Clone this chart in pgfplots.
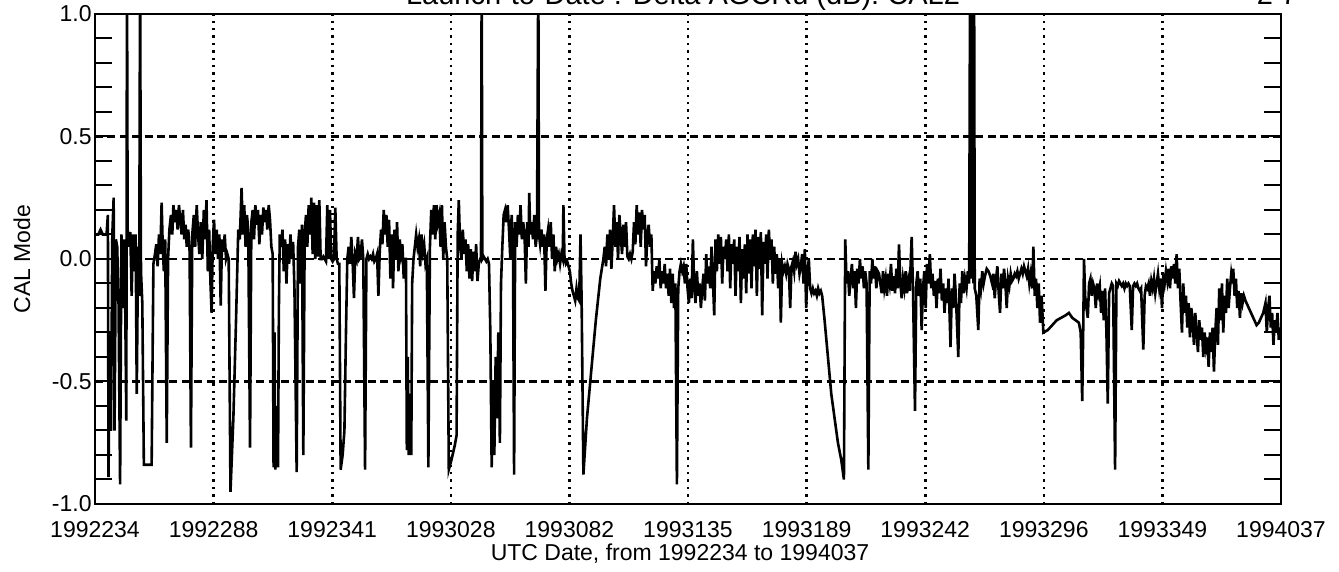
\documentclass[border=0pt]{standalone}
\usepackage{fontspec}
\setmainfont{Liberation Sans}
\usepackage{pgfplots}
\pgfplotsset{compat=1.18}

\begin{document}
\begin{tikzpicture}
\begin{axis}[
  name=ax, at={(0,0)}, anchor=south west,
  scale only axis, width=593pt, height=245pt,
  xmin=0, xmax=534, ymin=-1, ymax=1,
  xtick={0,53.4,106.8,160.2,213.6,267,320.4,373.8,427.2,480.6,534},
  xticklabels={1992234,1992288,1992341,1993028,1993082,1993135,1993189,1993242,1993296,1993349,1994037},
  ytick={-1,-0.5,0,0.5,1},
  yticklabels={\raisebox{1pt}{-1.0},-0.5,0.0,0.5,\raisebox{-3pt}{1.0}},
  minor y tick num=4,
  ytick pos=both,
  tick align=inside,
  major tick length=8.5pt, minor tick length=8.5pt,
  xtick style={draw=none},
  ytick style={line width=1pt, black},
  minor tick style={line width=1pt, black},
  axis line style={line width=1.3pt},
  xmajorgrids, ymajorgrids,
  every axis x grid/.style={black, line width=1.3pt, dash pattern=on 1.2pt off 2.5pt},
  every axis y grid/.style={black, line width=1.2pt, dash pattern=on 4pt off 2.2pt},
  /pgf/number format/assume math mode=true,
  tick label style={font=\fontsize{11.5}{13}\selectfont},
  xticklabel style={yshift=-5.2pt},
  yticklabel style={inner xsep=1.5pt},
]
\addplot[black, line width=1.3pt] coordinates {
(0.3,0.10) (1.5,0.10) (2.5,0.12) (3.5,0.10) (5.2,0.10) (5.8,0.18) (6.1,-0.89) (6.6,-0.30) (7.2,-0.70) (7.8,0.10)
(8.4,0.25) (8.8,-0.70) (9.4,0.08) (10.0,0.05) (10.6,-0.18) (11.3,-0.92) (11.9,0.10) (12.5,-0.20) (13.0,0.08) (13.6,-0.18)
(14.1,-0.66) (14.4,1.2) (14.7,0.12) (15.3,0.05) (15.9,0.11) (16.5,-0.15) (17.1,0.10) (17.7,-0.05) (18.3,0.10) (18.8,-0.55)
(19.4,0.05) (19.9,-0.15) (20.3,1.2) (20.7,-0.05) (21.3,-0.18) (22.0,-0.84) (25.5,-0.84) (26.3,-0.02)
(27.0,0.02) (27.6,0.06) (28.2,-0.03) (28.8,0.10) (29.4,0.02) (30.0,0.23) (30.5,0.05) (31.0,-0.05) (31.6,0.08) (32.3,-0.75)
(32.9,0.00) (33.5,0.12) (34.2,0.18) (34.8,0.10) (35.3,0.22) (36.0,0.15) (36.6,0.20) (37.2,0.12) (37.8,0.22) (38.3,0.17)
(39.0,0.10) (39.6,0.20) (40.2,0.08) (40.8,0.14) (41.3,0.05) (42.0,0.12) (42.6,0.03) (43.2,-0.77) (43.8,0.10) (44.5,0.18)
(45.1,0.05) (45.8,0.22) (46.4,0.10) (47.0,0.02) (47.6,0.15) (48.3,0.00) (49.0,0.20) (49.6,0.08) (50.2,0.24) (50.8,-0.05)
(51.4,0.12) (52.0,-0.10) (52.5,-0.22) (53.0,0.05) (53.6,0.16) (54.2,0.02) (54.8,0.12) (55.4,0.00) (56.0,0.10) (56.6,-0.19)
(57.2,0.08) (57.8,0.03) (58.4,0.10) (59.0,0.00) (59.6,0.02) (60.2,0.00) (61.0,-0.95) (62.3,-0.65) (63.5,-0.25) (64.5,0.12)
(65.2,0.08) (66.0,0.29) (66.6,0.10) (67.2,0.22) (67.8,0.05) (68.4,0.18) (69.0,0.12) (69.8,-0.77) (70.4,0.15) (71.0,0.20)
(71.6,0.08) (72.2,0.22) (72.8,0.14) (73.4,0.20) (74.0,0.06) (74.6,0.18) (75.2,0.10) (75.8,0.21) (76.4,0.15) (77.0,0.20)
(77.6,0.12) (78.2,0.22) (78.8,0.16) (79.4,0.05) (80.0,0.02) (80.4,-0.85) (80.8,-0.30) (81.2,-0.86) (81.6,-0.60) (82.0,-0.70)
(82.4,-0.85) (82.8,-0.20) (83.2,0.10) (83.8,0.05) (84.4,0.12) (85.0,-0.05) (85.6,0.08) (86.2,-0.10) (86.8,0.06) (87.4,-0.02)
(88.0,0.10) (88.6,0.00) (89.2,0.07) (89.8,-0.12) (90.8,-0.87) (91.4,0.05) (92.0,0.12) (92.6,-0.10) (93.2,0.14) (93.8,-0.80)
(94.4,0.10) (95.0,0.18) (95.6,0.05) (96.2,0.22) (96.8,0.10) (97.4,0.25) (98.0,0.02) (98.6,0.23) (99.2,0.00) (99.8,0.22)
(100.4,0.01) (101.0,0.24) (101.6,0.00) (102.2,0.00) (102.8,0.01) (103.4,0.00) (104.0,-0.01) (104.6,0.22) (105.2,0.00) (105.8,0.20)
(106.4,0.00) (107.0,-0.01) (107.6,0.00) (108.2,0.21) (108.8,0.00) (109.4,-0.02) (110.0,-0.02) (110.6,-0.86) (111.5,-0.80) (112.3,-0.70)
(113.0,-0.30) (113.6,0.00) (114.2,0.05) (114.8,-0.02) (115.4,0.09) (116.0,-0.01) (116.6,-0.16) (117.2,0.02) (117.8,0.00) (118.4,0.09)
(119.0,0.00) (119.6,0.01) (120.2,0.08) (120.8,0.00) (121.6,-0.86) (122.2,0.00) (122.8,0.02) (123.4,0.00) (124.0,0.01) (124.6,0.00)
(125.2,0.02) (125.8,-0.01) (126.4,0.00) (127.0,0.02) (127.6,-0.15) (128.2,0.03) (128.8,0.12) (129.4,0.06) (130.0,0.20) (130.6,0.10)
(131.2,0.18) (131.8,0.05) (132.4,0.16) (133.0,-0.08) (133.6,0.10) (134.2,-0.12) (134.8,0.12) (135.4,0.00) (136.0,0.15) (136.6,-0.05)
(137.2,0.08) (137.8,0.02) (138.4,0.06) (139.0,-0.08) (139.6,0.00) (140.0,0.00) (140.4,-0.78) (140.8,-0.40) (141.2,-0.80) (141.6,-0.55)
(142.0,-0.68) (142.4,-0.80) (142.8,-0.10) (143.4,0.00) (144.0,0.05) (144.6,0.10) (145.2,0.05) (145.8,0.08) (146.4,-0.03) (147.0,0.10)
(147.6,0.03) (148.2,0.06) (148.8,-0.02) (149.4,0.00) (150.1,-0.85) (150.8,0.05) (151.4,0.20) (152.0,0.10) (152.6,0.22) (153.2,0.08)
(153.8,0.22) (154.4,0.15) (155.0,0.18) (155.6,0.05) (156.2,0.22) (156.8,0.00) (157.4,0.15) (158.0,0.05) (158.6,0.00) (159.3,-0.86)
(160.5,-0.82) (162.0,-0.76) (162.8,-0.72) (163.3,0.10) (163.8,0.24) (164.4,0.05) (165.0,0.00) (165.6,0.12) (166.2,0.02) (166.8,0.08)
(167.4,-0.05) (168.0,0.06) (168.6,-0.08) (169.2,0.04) (169.8,-0.09) (170.4,0.03) (171.0,-0.05) (171.6,0.06) (172.2,-0.09) (172.8,-0.02)
(173.4,0.00) (173.8,0.00) (174.1,1.2) (174.4,0.00) (175.0,0.01) (175.6,0.00) (176.2,-0.01) (176.8,0.00) (177.4,-0.02) (178.0,-0.30)
(178.6,-0.85) (179.2,-0.50) (179.8,-0.80) (180.4,-0.40) (181.0,-0.65) (181.6,-0.30) (182.3,-0.75) (182.8,-0.10) (183.4,0.05) (184.0,0.18)
(184.6,0.20) (185.2,0.15) (185.8,0.22) (186.4,0.12) (187.0,0.00) (187.6,0.18) (188.2,0.05) (188.7,-0.88) (189.2,0.15) (189.8,0.05)
(190.4,0.18) (191.0,0.10) (191.6,0.22) (192.2,0.08) (192.8,0.15) (193.4,0.10) (194.0,-0.10) (194.6,0.15) (195.2,0.05) (195.5,0.27)
(196.0,0.10) (196.6,0.15) (197.2,0.08) (197.8,0.18) (198.4,0.05) (199.0,0.10) (199.6,1.2) (199.9,0.10) (200.4,0.06) (201.0,0.12)
(201.6,0.05) (202.2,0.10) (202.8,-0.13) (203.4,0.08) (204.0,0.12) (204.6,0.05) (205.2,0.15) (205.8,0.00) (206.4,0.10) (207.0,-0.05)
(207.6,0.05) (208.2,0.00) (208.8,0.02) (209.4,-0.02) (210.0,0.02) (210.6,0.00) (210.9,0.22) (211.4,0.00) (212.0,-0.02) (212.6,-0.01)
(213.2,-0.03) (213.8,-0.05) (214.4,-0.10) (215.0,-0.13) (215.6,-0.15) (216.2,-0.17) (216.8,-0.12) (217.4,-0.16) (218.0,-0.17) (218.6,0.10)
(219.1,-0.17) (219.9,-0.88) (221.5,-0.65) (223.5,-0.45) (225.5,-0.25) (227.5,-0.08) (228.9,0.00) (229.5,0.05) (230.1,-0.03) (230.7,0.10)
(231.3,0.00) (231.9,0.12) (232.5,-0.04) (233.1,0.08) (233.7,0.22) (234.3,0.05) (234.9,0.15) (235.5,0.00) (236.1,0.18) (236.7,0.10)
(237.3,0.02) (237.9,0.14) (238.5,0.05) (239.1,0.15) (239.7,0.01) (240.3,0.00) (240.9,0.02) (241.5,0.00) (242.1,0.03) (242.7,0.15)
(243.3,0.06) (243.9,0.22) (244.5,0.10) (245.1,0.19) (245.7,0.05) (246.3,0.20) (246.9,0.12) (247.5,0.18) (248.1,-0.03) (248.7,0.10)
(249.3,0.14) (249.9,0.05) (250.5,0.10) (251.1,-0.13) (251.7,-0.05) (252.3,-0.10) (252.9,-0.03) (253.5,-0.08) (254.1,0.00) (254.7,-0.12)
(255.3,-0.05) (255.9,-0.10) (256.5,-0.02) (257.1,-0.12) (257.7,-0.06) (258.3,-0.15) (258.9,-0.04) (259.5,-0.18) (260.1,-0.06) (260.7,-0.20)
(261.3,-0.10) (262.0,-0.92) (262.6,-0.12) (263.2,-0.05) (263.8,-0.02) (264.4,-0.05) (265.0,-0.03) (265.6,-0.10) (266.2,-0.02) (266.8,-0.12)
(267.4,-0.18) (268.0,-0.08) (268.6,-0.16) (269.2,0.08) (269.8,-0.12) (270.4,-0.18) (271.0,-0.05) (271.6,-0.15) (272.2,-0.10) (272.8,-0.20)
(273.4,-0.12) (274.0,-0.06) (274.6,-0.17) (275.2,0.02) (275.8,-0.10) (276.4,-0.03) (277.0,-0.12) (277.6,0.05) (278.2,-0.08) (278.8,-0.23)
(279.4,0.08) (280.0,-0.05) (280.6,0.10) (281.2,-0.02) (281.8,0.09) (282.4,-0.10) (283.0,0.05) (283.6,0.00) (284.2,0.08) (284.8,-0.05)
(285.4,0.10) (286.0,-0.12) (286.6,0.06) (287.2,-0.02) (287.8,0.08) (288.4,-0.15) (289.0,0.05) (289.6,-0.05) (290.2,0.09) (290.8,-0.18)
(291.4,0.04) (292.0,-0.08) (292.6,0.06) (293.2,-0.14) (293.8,0.10) (294.4,-0.06) (295.0,0.08) (295.6,-0.12) (296.2,0.10) (296.8,-0.03)
(297.4,0.12) (298.0,-0.15) (298.6,0.09) (299.2,-0.04) (299.8,0.11) (300.4,-0.23) (301.0,0.07) (301.6,-0.02) (302.2,0.10) (302.8,-0.08)
(303.4,0.12) (304.0,0.00) (304.6,0.08) (305.2,-0.10) (305.8,0.05) (306.4,-0.06) (307.0,0.02) (307.6,-0.12) (308.2,0.00) (308.8,-0.26)
(309.4,-0.02) (310.0,-0.05) (310.6,-0.03) (311.2,-0.06) (311.8,-0.02) (312.4,-0.04) (313.0,-0.20) (313.6,-0.03) (314.2,-0.01) (314.8,-0.05)
(315.4,0.03) (316.0,-0.02) (316.6,0.00) (317.2,-0.06) (317.8,-0.03) (318.4,0.02) (319.0,-0.10) (319.6,0.04) (320.2,-0.20) (320.8,-0.05)
(321.4,0.00) (322.0,-0.12) (322.6,-0.14) (323.2,-0.12) (323.8,-0.14) (324.4,-0.13) (325.0,-0.15) (325.6,-0.12) (326.2,-0.14) (326.8,-0.13)
(327.4,-0.15) (328.5,-0.25) (330.0,-0.40) (331.5,-0.55) (333.0,-0.65) (334.5,-0.75) (336.0,-0.82) (337.2,-0.90) (337.8,0.08) (338.4,-0.10)
(339.0,-0.05) (339.6,-0.15) (340.2,-0.08) (340.8,-0.02) (341.4,-0.12) (342.0,-0.05) (342.6,-0.20) (343.2,-0.04) (343.8,-0.10) (344.4,0.00)
(345.0,-0.08) (345.6,-0.03) (346.2,-0.12) (346.8,-0.05) (347.4,-0.10) (348.2,-0.86) (348.8,-0.05) (349.4,-0.10) (350.0,0.00) (350.6,-0.08)
(351.2,-0.03) (351.8,-0.12) (352.4,-0.05) (353.0,-0.06) (353.6,-0.10) (354.2,-0.14) (354.8,-0.05) (355.4,-0.12) (356.0,-0.08) (356.6,-0.15)
(357.2,-0.06) (357.8,-0.10) (358.4,-0.02) (359.0,-0.13) (359.6,-0.07) (360.2,-0.14) (360.8,-0.04) (361.4,-0.12) (362.0,0.06) (362.6,-0.10)
(363.2,-0.16) (363.8,-0.08) (364.4,-0.12) (365.0,-0.05) (365.6,-0.14) (366.2,-0.09) (366.8,-0.13) (367.7,0.09) (368.3,-0.12) (369.2,-0.62)
(369.8,-0.10) (370.4,-0.05) (371.0,-0.15) (371.6,-0.08) (372.2,-0.29) (372.8,-0.12) (373.4,-0.05) (374.0,-0.20) (374.6,-0.02) (375.2,-0.10)
(375.9,0.02) (376.5,-0.12) (377.1,-0.06) (377.7,-0.15) (378.3,-0.09) (378.9,-0.20) (379.5,-0.08) (380.1,-0.14) (380.7,-0.04) (381.3,-0.17)
(381.9,-0.10) (382.5,-0.22) (383.1,-0.12) (383.7,-0.18) (384.3,-0.08) (385.2,-0.36) (385.8,-0.12) (386.4,-0.20) (387.0,-0.06) (387.6,-0.15)
(388.7,-0.40) (389.3,-0.10) (389.9,-0.18) (390.5,-0.05) (391.1,-0.14) (391.7,-0.08) (392.4,-0.12) (393.0,-0.05) (393.6,-0.10) (394.0,1.2)
(394.3,-0.05) (394.6,1.2) (394.9,-0.08) (395.2,1.2) (395.5,-0.10) (395.8,1.2) (396.1,-0.12) (396.8,-0.15) (397.7,-0.29) (398.3,-0.08)
(398.9,-0.12) (399.5,-0.05) (400.1,-0.10) (400.7,-0.07) (401.5,-0.04) (402.3,-0.05) (403.1,-0.07) (403.9,-0.10) (404.5,-0.06) (405.1,-0.16)
(405.7,-0.08) (406.3,-0.03) (406.9,-0.14) (407.5,-0.22) (408.1,-0.06) (408.7,-0.12) (409.3,-0.04) (409.9,-0.10) (410.5,-0.20) (411.1,-0.08)
(411.7,-0.11) (412.3,-0.06) (412.9,-0.09) (413.5,-0.08) (414.1,-0.06) (414.7,-0.07) (415.3,-0.05) (415.9,-0.08) (416.5,-0.06) (417.1,-0.04)
(417.7,-0.06) (418.3,-0.03) (418.9,-0.05) (419.5,-0.07) (420.1,-0.04) (420.7,-0.10) (421.3,-0.06) (422.0,-0.12) (422.5,0.05) (423.1,-0.15)
(423.7,-0.08) (424.3,-0.20) (424.9,-0.10) (425.5,-0.26) (426.2,-0.15) (427.0,-0.30) (429.0,-0.29) (431.0,-0.27) (433.0,-0.25) (435.0,-0.24)
(437.0,-0.23) (438.5,-0.22) (440.0,-0.24) (441.5,-0.25) (443.0,-0.26) (443.8,-0.30) (444.5,-0.58) (445.0,-0.25) (445.3,0.00) (445.8,-0.15)
(446.4,-0.20) (447.0,-0.24) (447.6,-0.10) (448.2,-0.08) (448.8,-0.15) (449.4,-0.10) (450.0,-0.12) (450.6,-0.20) (451.2,-0.10) (451.8,-0.14)
(452.4,-0.11) (453.0,-0.22) (453.6,-0.13) (454.2,-0.25) (454.8,-0.12) (455.4,-0.30) (456.0,-0.59) (456.6,-0.14) (457.2,-0.12) (457.8,-0.10)
(458.4,-0.11) (459.3,-0.86) (459.9,-0.10) (460.5,-0.11) (461.1,-0.09) (461.7,-0.10) (462.3,-0.11) (462.9,-0.10) (463.5,-0.12) (464.1,-0.10)
(464.7,-0.11) (465.3,-0.10) (465.9,-0.11) (466.8,-0.29) (467.4,-0.11) (468.0,-0.10) (468.6,-0.11) (469.2,-0.10) (469.8,-0.12) (470.4,-0.13)
(471.0,-0.12) (472.0,-0.37) (472.6,-0.15) (473.2,-0.11) (473.8,-0.12) (474.4,-0.10) (475.0,-0.15) (475.6,-0.09) (476.2,-0.12) (476.8,-0.08)
(477.4,-0.14) (478.0,-0.10) (478.6,-0.06) (479.2,-0.12) (479.8,-0.08) (480.4,-0.20) (481.0,-0.06) (481.6,-0.10) (482.2,-0.05) (482.8,-0.09)
(483.4,-0.04) (484.0,-0.12) (484.6,-0.03) (485.2,-0.08) (485.8,-0.02) (486.4,-0.10) (487.0,0.02) (487.6,-0.12) (488.2,-0.04) (488.8,-0.18)
(489.4,-0.30) (490.0,-0.10) (490.6,-0.22) (491.2,-0.15) (491.8,-0.28) (492.4,-0.18) (493.0,-0.32) (493.6,-0.20) (494.2,-0.25) (494.8,-0.35)
(495.4,-0.22) (496.0,-0.30) (496.6,-0.38) (497.2,-0.25) (497.8,-0.33) (498.4,-0.28) (499.0,-0.40) (499.6,-0.30) (500.2,-0.36) (500.8,-0.32)
(501.4,-0.44) (502.0,-0.30) (502.6,-0.38) (503.2,-0.28) (503.8,-0.46) (504.4,-0.30) (505.0,-0.20) (505.6,-0.35) (506.2,-0.12) (506.8,-0.25)
(507.4,-0.10) (508.0,-0.30) (508.6,-0.15) (509.2,-0.22) (509.8,-0.08) (510.4,-0.20) (511.0,-0.12) (511.6,-0.06) (512.2,-0.10) (512.5,-0.04)
(513.1,-0.15) (513.7,-0.08) (514.3,-0.20) (514.9,-0.13) (515.5,-0.24) (516.1,-0.14) (516.7,-0.18) (517.3,-0.15) (518.0,-0.17) (519.0,-0.19)
(520.0,-0.21) (521.0,-0.23) (522.0,-0.25) (523.0,-0.27) (524.0,-0.26) (525.0,-0.24) (526.0,-0.22) (527.0,-0.18) (527.6,-0.30) (528.2,-0.20)
(528.8,-0.15) (529.4,-0.28) (530.0,-0.22) (530.6,-0.35) (531.2,-0.25) (531.8,-0.30) (532.4,-0.22) (533.0,-0.33) (533.8,-0.28)
};
\end{axis}
\node[font=\fontsize{14.5}{17}\selectfont, anchor=base] at (294pt,249.5pt) {Launch-to-Date : Delta AGCRu (dB): CAL2};
\node[font=\fontsize{14.5}{17}\selectfont, anchor=base] at (591pt,249.5pt) {2 7};
\node[font=\fontsize{11.5}{13}\selectfont, rotate=90] at (-36.5pt,122.5pt) {CAL Mode};
\node[font=\fontsize{11.5}{13}\selectfont, anchor=base] at (292.5pt,-28.5pt) {UTC Date, from 1992234 to 1994037};
\pgfresetboundingbox
\path[use as bounding box] (-47.5pt,-34pt) rectangle (622pt,252pt);
\end{tikzpicture}
\end{document}
